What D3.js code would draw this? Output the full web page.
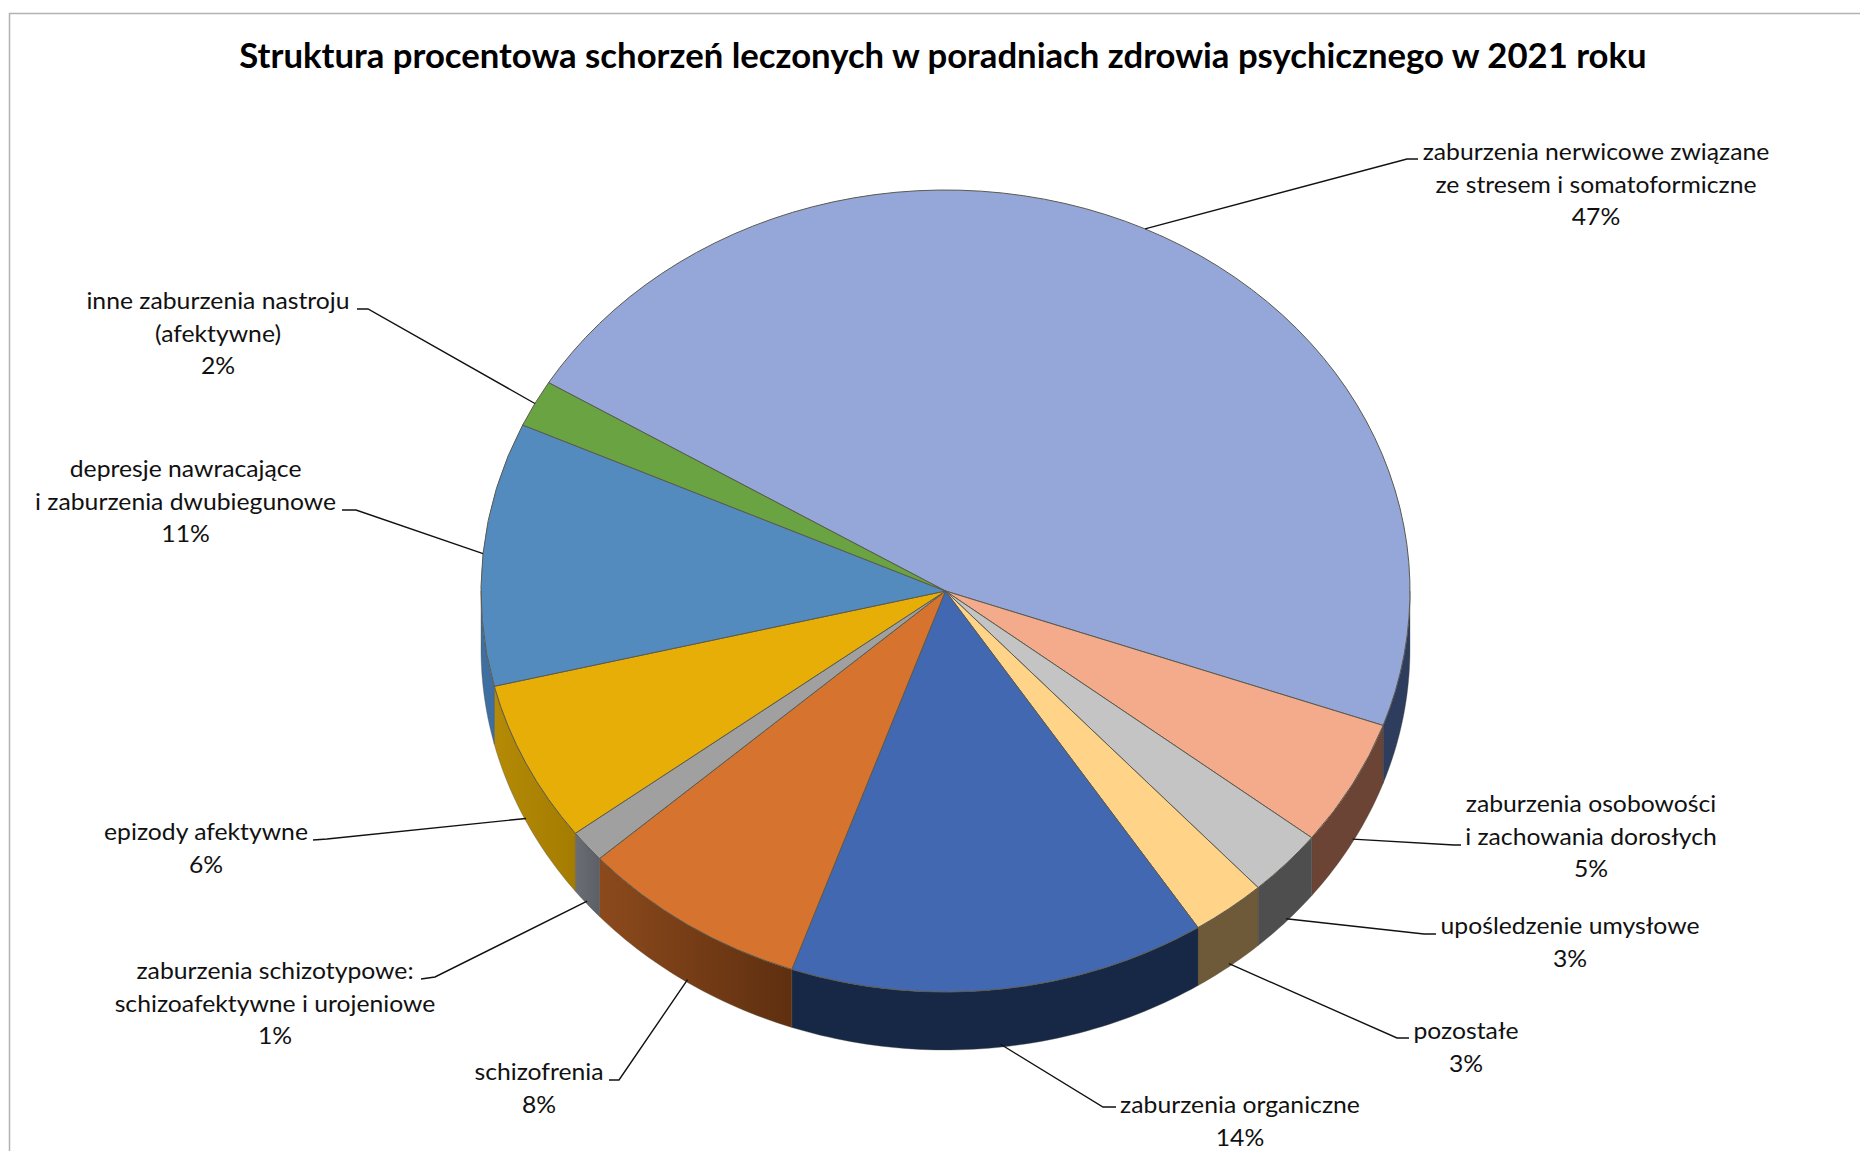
<!DOCTYPE html>
<html>
<head>
<meta charset="utf-8">
<script src="https://cdn.jsdelivr.net/npm/d3@7"></script>
<style>
    html, body { margin: 0; padding: 0; background: #fff; }
    svg { display: block; }
    text { font-family: Lato, "Open Sans", sans-serif; fill: #111; }
</style>
</head>
<body>
<div id="chart"></div>
<script>
const title = "Struktura procentowa schorzeń leczonych w poradniach zdrowia psychicznego w 2021 roku";

// order follows the pie clockwise, starting at the big slice
const categories = [
    ["zaburzenia nerwicowe związane", "ze stresem i somatoformiczne"],
    ["zaburzenia osobowości", "i zachowania dorosłych"],
    ["upośledzenie umysłowe"],
    ["pozostałe"],
    ["zaburzenia organiczne"],
    ["schizofrenia"],
    ["zaburzenia schizotypowe:", "schizoafektywne i urojeniowe"],
    ["epizody afektywne"],
    ["depresje nawracające", "i zaburzenia dwubiegunowe"],
    ["inne zaburzenia nastroju", "(afektywne)"]
];
const shares = [46.7, 5.1, 2.7, 2.6, 14.5, 8.0, 1.3, 6.5, 10.6, 1.9];
const percentLabels = ["47%", "5%", "3%", "3%", "14%", "8%", "1%", "6%", "11%", "2%"];

const topColors = ["#95a6d8", "#f4ab8c", "#c4c4c4", "#ffd488", "#4268b1", "#d5732f", "#a0a0a0", "#e8ae08", "#548bbf", "#6aa342"];
const sideLeft = ["#2e3c5e", "#6b4435", "#4e4e4e", "#6e5a38", "#172846", "#8c4a1c", "#6a6e74", "#b48a06", "#3f6ea0", "#3f6a28"];
const sideRight = ["#2e3c5e", "#6b4435", "#4e4e4e", "#6e5a38", "#172846", "#5e2f10", "#5c6066", "#a47c00", "#3f6ea0", "#3f6a28"];

// [label centre x, first baseline, elbow x, elbow y, leader end x, leader end y]
const labelLayout = [
    [1596, 160, 1407, 159, 1418, 159],
    [1591, 812, 1454, 845, 1461, 845],
    [1570, 934, 1424, 934, 1436, 934],
    [1466, 1039, 1397, 1038, 1409, 1038],
    [1240, 1113, 1103, 1107, 1116, 1107],
    [539, 1080, 619, 1080, 609, 1080],
    [275, 979, 435, 977, 421, 979],
    [206, 840, 327, 839, 313, 840],
    [185.6, 477, 356, 510, 342, 510],
    [218, 309, 368, 309, 357, 309]
];

const width = 1860;
const height = 1151;
const cx = 945.5;
const cy = 591;
const rx = 464.5;
const ry = 401;
const depth = 58;
const lineHeight = 32.6;
const textStretch = 1.03;

const svg = d3.select("#chart").append("svg")
    .attr("width", width)
    .attr("height", height);

// frame runs off the right and bottom of the picture
svg.append("path")
    .attr("d", "M9.5," + height + "V13.5H" + width)
    .attr("fill", "none")
    .attr("stroke", "#b2b2b2")
    .attr("stroke-width", 1.5);

svg.append("text")
    .attr("x", 943)
    .attr("y", 68)
    .attr("text-anchor", "middle")
    .attr("font-size", 34.7)
    .attr("font-weight", 700)
    .style("fill", "#000")
    .text(title);

const pie = d3.pie()
    .sort(null)
    .startAngle(301.3 * Math.PI / 180)
    .endAngle((301.3 + 360) * Math.PI / 180);
const slices = pie(shares);

// angle measured clockwise from the top of the ellipse
const ex = a => cx + rx * Math.sin(a);
const ey = a => cy - ry * Math.cos(a);

function sidePath(a0, a1) {
    const n = Math.max(2, Math.ceil((a1 - a0) * 60));
    const angles = d3.range(n + 1).map(i => a0 + (a1 - a0) * i / n);
    const upper = angles.map(a => [ex(a), ey(a)]);
    const lower = angles.slice().reverse().map(a => [ex(a), ey(a) + depth]);
    return d3.line()(upper.concat(lower)) + "Z";
}

const defs = svg.append("defs");
const sides = svg.append("g");
const TAU = 2 * Math.PI;
const frontStart = Math.PI / 2;
const frontEnd = 3 * Math.PI / 2;

slices.forEach((s, i) => {
    // the slice may be given past a full turn, try both windings
    [0, TAU].forEach(shift => {
        const a0 = Math.max(s.startAngle, frontStart + shift);
        const a1 = Math.min(s.endAngle, frontEnd + shift);
        if (a1 <= a0) return;
        const id = "side-" + i + "-" + (shift ? 1 : 0);
        const grad = defs.append("linearGradient")
            .attr("id", id)
            .attr("gradientUnits", "objectBoundingBox");
        grad.append("stop").attr("offset", 0).attr("stop-color", sideLeft[i]);
        grad.append("stop").attr("offset", 1).attr("stop-color", sideRight[i]);
        sides.append("path")
            .attr("d", sidePath(a0, a1))
            .attr("fill", "url(#" + id + ")")
            .attr("stroke", "#4a4a40")
            .attr("stroke-opacity", 0.5)
            .attr("stroke-width", 0.7);
    });
});

const arc = d3.arc().innerRadius(0).outerRadius(rx);
svg.append("g")
    .attr("transform", "translate(" + cx + "," + cy + ") scale(1," + (ry / rx) + ")")
    .selectAll("path")
    .data(slices)
    .join("path")
    .attr("d", arc)
    .attr("fill", (d, i) => topColors[i])
    .attr("stroke", "#5a5a4e")
    .attr("stroke-width", 1)
    .attr("vector-effect", "non-scaling-stroke");

// leaders start at the middle of each slice's outer edge
const leaders = svg.append("g");
slices.forEach((s, i) => {
    const mid = (s.startAngle + s.endAngle) / 2;
    const isFront = Math.cos(mid) < 0;
    const layout = labelLayout[i];
    leaders.append("polyline")
        .attr("points", [
            [ex(mid), ey(mid) + (isFront ? depth * 0.95 : 0)],
            [layout[2], layout[3]],
            [layout[4], layout[5]]
        ].join(" "))
        .attr("fill", "none")
        .attr("stroke", "#111")
        .attr("stroke-width", 1.4);
});

const labels = svg.append("g");
categories.forEach((lines, i) => {
    const layout = labelLayout[i];
    lines.concat(percentLabels[i]).forEach((line, j) => {
        labels.append("text")
            .attr("transform", "translate(" + layout[0] + "," + (layout[1] + j * lineHeight) + ") scale(" + textStretch + ",1)")
            .attr("text-anchor", "middle")
            .attr("font-size", 24)
            .text(line);
    });
});
</script>
</body>
</html>
